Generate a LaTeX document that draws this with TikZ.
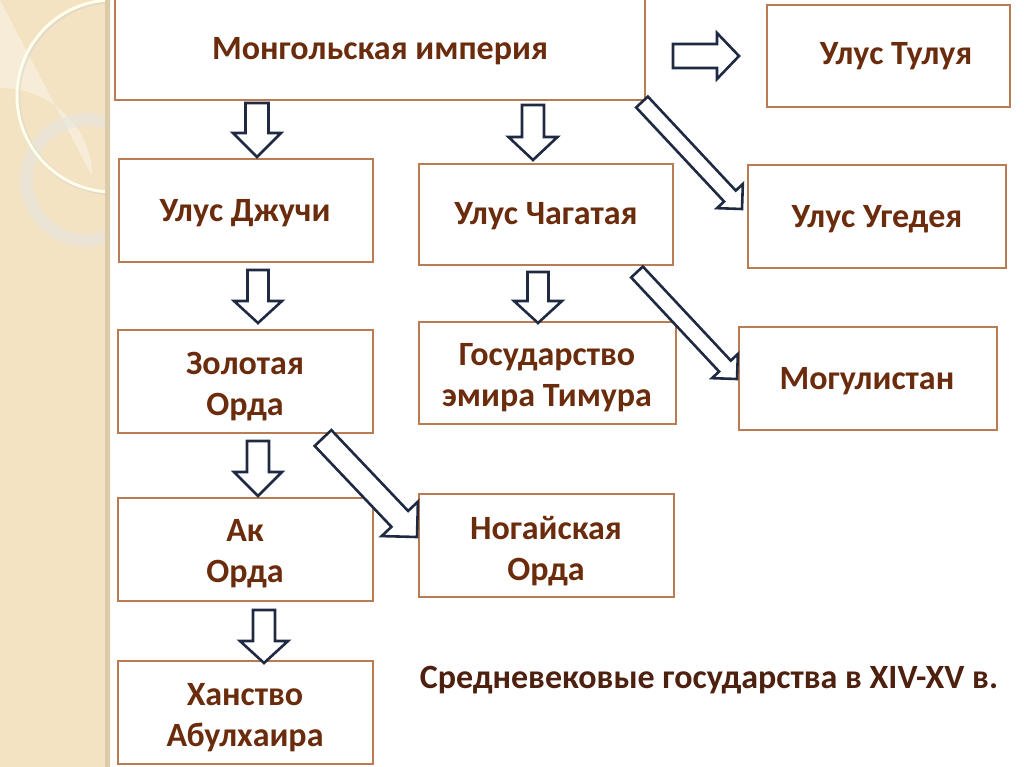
\documentclass[tikz,border=0pt]{standalone}
\usepackage{fontspec}
\setmainfont{Carlito}
\usetikzlibrary{calc}
\definecolor{boxline}{HTML}{B97B52}
\definecolor{txt}{HTML}{6A2C0C}
\definecolor{captxt}{HTML}{4E200F}
\definecolor{arr}{HTML}{1F2A42}
\definecolor{strip}{HTML}{F3E3C2}
\definecolor{stripedge}{HTML}{DCCBA8}
\tikzset{
  box/.style={draw=boxline, line width=1.3pt, fill=white, inner sep=0pt, outer sep=0pt},
  lbl/.style={text=txt, font=\fontsize{34}{41}\selectfont\bfseries, align=center, inner sep=0pt},
  blockarr/.style={draw=arr, line width=2.6pt, fill=white, line join=miter},
}
% #1 tail, #2 tip, #3 half shaft, #4 half head, #5 head length
\newcommand{\barrow}[5]{%
  \coordinate (hb) at ($(#2)!#5!(#1)$);
  \draw[blockarr] ($(#1)!#3!90:(#2)$) -- ($(hb)!#3!-90:(#1)$) -- ($(hb)!#4!-90:(#1)$) -- (#2)
     -- ($(hb)!#4!90:(#1)$) -- ($(hb)!#3!90:(#1)$) -- ($(#1)!#3!-90:(#2)$) -- cycle;
}
\begin{document}
\begin{tikzpicture}[x=1pt,y=-1pt]
\useasboundingbox (0,0) rectangle (1024,767);
% left decorative strip
\fill[strip] (0,0) rectangle (110,767);
\begin{scope}
  \clip (0,0) rectangle (110,767);
  \fill[white, opacity=0.35] (0,0) -- (0,88) arc[x radius=92, y radius=88, start angle=-90, end angle=0] -- cycle;
  \draw[line width=13pt, color=white!80!gray, opacity=0.55] (87,180) circle[radius=60.5];
  \draw[line width=4.5pt, color=black!20, opacity=0.4] (114,97) circle[radius=96];
  \draw[line width=3pt, color=white!92!yellow] (113,96) circle[radius=96];
  \fill[stripedge] (105,0) rectangle (112,767);
\end{scope}
% boxes
\node[box, minimum width=530pt, minimum height=105pt] (mong) at (380,47.5) {};
\node[box, minimum width=243pt, minimum height=102pt] (tuluy) at (888.5,56) {};
\node[box, minimum width=254pt, minimum height=103pt] (juchi) at (246,210.5) {};
\node[box, minimum width=254pt, minimum height=101pt] (chag) at (546,214.5) {};
\node[box, minimum width=258pt, minimum height=103pt] (uged) at (877,216.5) {};
\node[box, minimum width=255pt, minimum height=103pt] (zol) at (245.5,381.5) {};
\node[box, minimum width=257pt, minimum height=102pt] (timur) at (547.5,373) {};
\node[box, minimum width=258pt, minimum height=103pt] (mogul) at (868,378.5) {};
\node[box, minimum width=255pt, minimum height=103pt] (ak) at (245.5,549.5) {};
\node[box, minimum width=255pt, minimum height=103pt] (nogai) at (546.5,545.5) {};
\node[box, minimum width=255pt, minimum height=103pt] (khan) at (245.5,712.5) {};
% labels
\node[lbl] (mongT) at (380,51) {Монгольская империя};
\node[lbl] (tuluyT) at (896,56) {Улус Тулуя};
\node[lbl] (juchiT) at (245,213) {Улус Джучи};
\node[lbl] (chagT) at (546,216) {Улус Чагатая};
\node[lbl] (ugedT) at (877,219) {Улус Угедея};
\node[lbl] (zolT) at (245,386.5) {Золотая\\Орда};
\node[lbl] (timurT) at (547,378) {Государство\\эмира Тимура};
\node[lbl] (mogulT) at (867,381) {Могулистан};
\node[lbl] (akT) at (245,554) {Ак\\Орда};
\node[lbl] (nogaiT) at (546,551.5) {Ногайская\\Орда};
\node[lbl] (khanT) at (245,717.5) {Ханство\\Абулхаира};
\node[lbl, text=captxt] (caption) at (709,680) {Средневековые государства в XIV-XV в.};
% arrow anchor coordinates
\coordinate (a1t) at (257,103); \coordinate (a1h) at (257,157);
\coordinate (a2t) at (533,105); \coordinate (a2h) at (533,160);
\coordinate (a3t) at (673,56);  \coordinate (a3h) at (739,56);
\coordinate (a4t) at (258,270); \coordinate (a4h) at (258,323);
\coordinate (a5t) at (538,272); \coordinate (a5h) at (538,323);
\coordinate (a6t) at (258,441); \coordinate (a6h) at (258,496);
\coordinate (a7t) at (264,610); \coordinate (a7h) at (264,663);
\coordinate (d1t) at (642,102); \coordinate (d1h) at (742,209);
\coordinate (d2t) at (637,272); \coordinate (d2h) at (737,379);
\coordinate (d3t) at (323,438); \coordinate (d3h) at (417,537);
% arrows
\barrow{a1t}{a1h}{11.5pt}{24pt}{24pt}
\barrow{a2t}{a2h}{11pt}{24.5pt}{23pt}
\barrow{a3t}{a3h}{12pt}{23pt}{22pt}
\barrow{a4t}{a4h}{10.5pt}{24pt}{22pt}
\barrow{a5t}{a5h}{10.5pt}{24pt}{22pt}
\barrow{a6t}{a6h}{11pt}{24pt}{24pt}
\barrow{a7t}{a7h}{11pt}{24pt}{22pt}
\barrow{d1t}{d1h}{8pt}{17.7pt}{17.7pt}
\barrow{d2t}{d2h}{8pt}{17.7pt}{17.7pt}
\barrow{d3t}{d3h}{11.5pt}{25pt}{25pt}
\end{tikzpicture}
\end{document}
